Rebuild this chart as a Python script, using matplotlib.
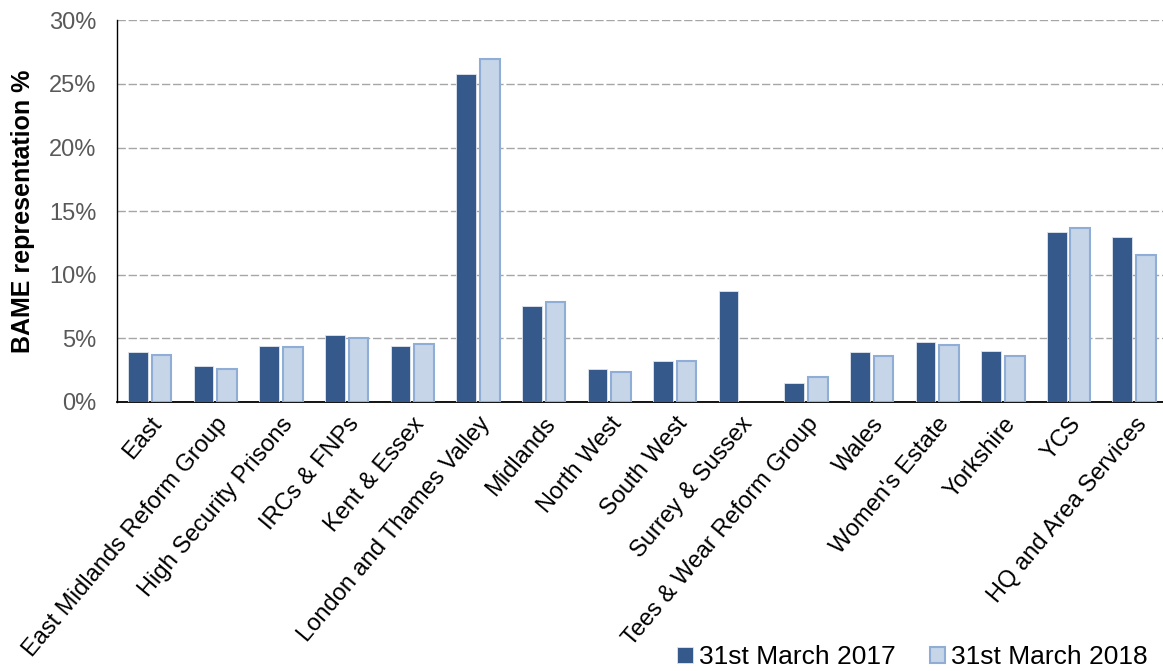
import numpy as np
import matplotlib
matplotlib.use("Agg")
import matplotlib.pyplot as plt
from matplotlib.ticker import PercentFormatter

plt.rcParams['font.family'] = ['Liberation Sans', 'DejaVu Sans']

regions = ['East', 'East Midlands Reform Group', 'High Security Prisons',
           'IRCs & FNPs', 'Kent & Essex', 'London and Thames Valley',
           'Midlands', 'North West', 'South West', 'Surrey & Sussex',
           'Tees & Wear Reform Group', 'Wales', "Women's Estate",
           'Yorkshire', 'YCS', 'HQ and Area Services']
mar2017 = [3.9, 2.85, 4.37, 5.27, 4.43, 25.8, 7.55, 2.56, 3.25, 8.72,
           1.52, 3.95, 4.72, 4.03, 13.4, 13.0]
mar2018 = [3.7, 2.6, 4.32, 5.0, 4.53, 27.0, 7.9, 2.33, 3.2, np.nan,
           1.93, 3.6, 4.45, 3.6, 13.7, 11.58]
series_names = ['31st March 2017', '31st March 2018']

dark = '#35598a'
light = '#c6d5e8'
light_edge = '#8fadd5'

fig = plt.figure(figsize=(11.63, 6.71), dpi=100)
ax = fig.add_axes([0.1006, 0.4009, 0.9028, 0.5687])

x = np.arange(len(regions))
w = 0.3
ax.bar(x - 0.18, mar2017, w, color=dark, edgecolor='#dfe6ef', linewidth=0.6,
       label=series_names[0], zorder=3)
ax.bar(x + 0.18, mar2018, w, color=light, edgecolor=light_edge, linewidth=1.5,
       label=series_names[1], zorder=3)

ax.set_xlim(-0.5, len(regions) - 0.5)
ax.set_ylim(0, 30)
ax.set_yticks(np.arange(0, 31, 5))
ax.yaxis.set_major_formatter(PercentFormatter(decimals=0))
ax.yaxis.grid(True, color='#a6a6a6', linestyle=(0, (6, 2)), linewidth=1.0, zorder=0)

ax.set_xticks(x)
ax.set_xticklabels(regions, rotation=50, ha='right', rotation_mode='anchor',
                   fontsize=17, color='black')
ax.tick_params(axis='x', length=0, pad=8)
ax.tick_params(axis='y', length=0, pad=15, labelsize=17, labelcolor='#595959')

for side in ['top', 'right']:
    ax.spines[side].set_visible(False)
ax.spines['left'].set_color('black')
ax.spines['bottom'].set_color('black')
ax.spines['left'].set_linewidth(1.0)
ax.spines['bottom'].set_linewidth(1.3)

ax.set_ylabel('BAME representation %', fontsize=18, fontweight='bold', labelpad=10)

fig.legend(loc='lower right', bbox_to_anchor=(1.007, -0.033), ncol=2, frameon=False,
           fontsize=19, handlelength=0.6, handleheight=0.6, handletextpad=0.2,
           columnspacing=1.3)

fig.savefig('out.png', dpi=100)
